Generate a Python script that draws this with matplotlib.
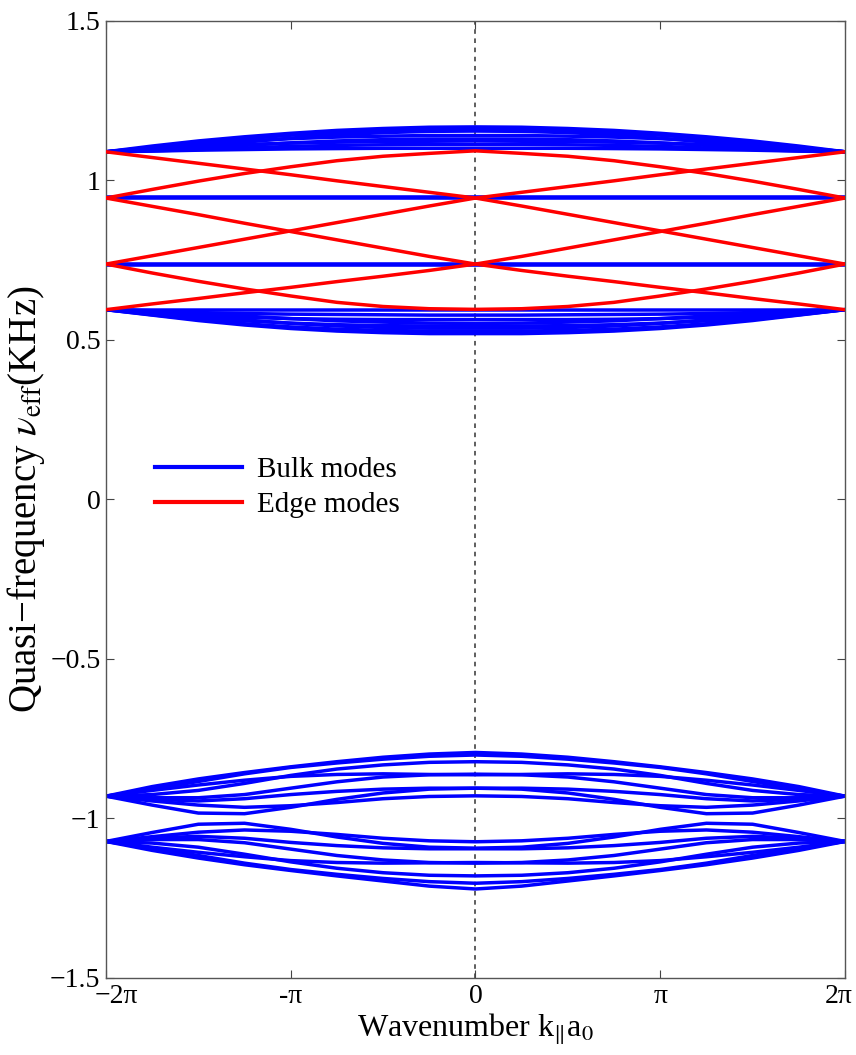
import numpy as np
import matplotlib.pyplot as plt
from matplotlib.lines import Line2D
from matplotlib.transforms import ScaledTranslation

# k samples on the left half, in units of pi (curves are mirror-symmetric about k=0)
k_half = [-2.0, -1.75, -1.5, -1.25, -1.0, -0.75, -0.5, -0.25, 0.0]

# bulk modes, upper positive group (meet at 1.09 on the zone edge)
bulk_top = [
    [1.090, 1.108, 1.124, 1.137, 1.148, 1.157, 1.163, 1.167, 1.168],
    [1.090, 1.104, 1.118, 1.131, 1.142, 1.150, 1.156, 1.160, 1.161],
    [1.090, 1.098, 1.108, 1.120, 1.133, 1.143, 1.150, 1.154, 1.155],
    [1.090, 1.103, 1.115, 1.124, 1.131, 1.136, 1.139, 1.141, 1.141],
    [1.090, 1.095, 1.102, 1.110, 1.118, 1.124, 1.128, 1.130, 1.130],
    [1.090, 1.099, 1.107, 1.113, 1.117, 1.120, 1.122, 1.123, 1.124],
    [1.090, 1.093, 1.097, 1.102, 1.107, 1.110, 1.112, 1.113, 1.113],
    [1.090, 1.092, 1.095, 1.097, 1.099, 1.100, 1.101, 1.101, 1.101],
]
# bulk modes, lower positive group (meet at 0.595 on the zone edge)
bulk_low = [
    [0.595, 0.594, 0.594, 0.594, 0.594, 0.594, 0.594, 0.594, 0.594],
    [0.595, 0.590, 0.586, 0.583, 0.581, 0.580, 0.579, 0.578, 0.578],
    [0.595, 0.585, 0.577, 0.571, 0.567, 0.565, 0.564, 0.564, 0.564],
    [0.595, 0.590, 0.583, 0.575, 0.567, 0.560, 0.556, 0.553, 0.552],
    [0.595, 0.581, 0.569, 0.560, 0.553, 0.548, 0.545, 0.544, 0.544],
    [0.595, 0.586, 0.575, 0.563, 0.552, 0.544, 0.539, 0.537, 0.537],
    [0.595, 0.579, 0.564, 0.551, 0.541, 0.534, 0.530, 0.528, 0.528],
    [0.595, 0.578, 0.561, 0.547, 0.536, 0.528, 0.523, 0.520, 0.520],
]
# flat bulk modes
bulk_flat = [0.947, 0.738]

# bulk modes, negative groups
bulk_neg_a = [
    [-0.930, -0.900, -0.876, -0.856, -0.838, -0.822, -0.808, -0.798, -0.793],
    [-0.930, -0.908, -0.884, -0.860, -0.840, -0.826, -0.814, -0.805, -0.801],
    [-0.930, -0.925, -0.912, -0.890, -0.865, -0.845, -0.832, -0.824, -0.822],
    [-0.930, -0.912, -0.895, -0.880, -0.868, -0.862, -0.860, -0.862, -0.863],
    [-0.930, -0.958, -0.983, -0.985, -0.965, -0.940, -0.920, -0.908, -0.905],
    [-0.930, -0.945, -0.958, -0.965, -0.960, -0.950, -0.938, -0.931, -0.929],
    [-0.930, -0.935, -0.935, -0.925, -0.905, -0.885, -0.870, -0.863, -0.861],
    [-0.930, -0.940, -0.945, -0.938, -0.925, -0.915, -0.908, -0.905, -0.905],
]
bulk_neg_b = [
    [-1.072, -1.100, -1.124, -1.145, -1.163, -1.180, -1.196, -1.212, -1.221],
    [-1.072, -1.093, -1.116, -1.140, -1.160, -1.175, -1.188, -1.198, -1.203],
    [-1.072, -1.077, -1.090, -1.112, -1.136, -1.156, -1.170, -1.178, -1.180],
    [-1.072, -1.090, -1.106, -1.120, -1.132, -1.138, -1.140, -1.139, -1.138],
    [-1.072, -1.044, -1.018, -1.015, -1.034, -1.058, -1.078, -1.090, -1.093],
    [-1.072, -1.057, -1.043, -1.036, -1.040, -1.050, -1.062, -1.070, -1.073],
    [-1.072, -1.066, -1.066, -1.076, -1.096, -1.116, -1.130, -1.138, -1.140],
    [-1.072, -1.061, -1.056, -1.062, -1.075, -1.085, -1.092, -1.095, -1.095],
]

# edge modes (each drawn together with its mirror image)
edge = [
    [1.090, 1.072, 1.054, 1.036, 1.018, 0.999, 0.981, 0.963, 0.945],
    [0.945, 0.972, 0.998, 1.022, 1.043, 1.062, 1.076, 1.085, 1.093],
    [0.945, 0.919, 0.893, 0.866, 0.840, 0.814, 0.788, 0.762, 0.738],
    [0.738, 0.764, 0.790, 0.816, 0.842, 0.868, 0.894, 0.920, 0.945],
    [0.738, 0.710, 0.684, 0.660, 0.638, 0.618, 0.605, 0.598, 0.596],
    [0.595, 0.613, 0.630, 0.648, 0.665, 0.683, 0.700, 0.718, 0.738],
]

yticks = [1.5, 1, 0.5, 0, -0.5, -1, -1.5]
ytick_labels = ['1.5', '1', '0.5', '0', '\u22120.5', '\u22121', '\u22121.5']
xticks = [-2, -1, 0, 1, 2]
xtick_labels = ['\u22122\u03c0', '-\u03c0', '0', '\u03c0', '2\u03c0']


def full(vals):
    vals = list(vals)
    return np.array(vals + vals[-2::-1])


plt.rcParams['font.family'] = ['Liberation Serif', 'DejaVu Serif']
plt.rcParams['mathtext.fontset'] = 'stix'

k = full(k_half)
k[len(k_half):] *= -1
k = k * np.pi

fig = plt.figure(figsize=(8.56, 10.55), dpi=100)
ax = fig.add_axes([0.1238, 0.0730, 0.8633, 0.9071])

blue = '#0000ff'
red = '#ff0000'
lw = 2.5

for curve in bulk_top + bulk_low + bulk_neg_a + bulk_neg_b:
    ax.plot(k, full(curve), color=blue, lw=lw, zorder=2)
for level in bulk_flat:
    ax.plot([k[0], k[-1]], [level, level], color=blue, lw=3.3, zorder=2)
for curve in edge:
    ax.plot(k, full(curve), color=red, lw=lw, zorder=3)

ax.axvline(0, color='#333333', lw=1.1, ls=(0, (3, 3)), zorder=1)

ax.set_xlim(-2 * np.pi, 2 * np.pi)
ax.set_ylim(-1.5, 1.5)
ax.set_xticks([t * np.pi for t in xticks])
ax.set_xticklabels(xtick_labels)
ax.set_yticks(yticks)
ax.set_yticklabels(ytick_labels)
ax.tick_params(direction='in', length=6, width=0.8, colors='#444444',
               labelcolor='black', labelsize=20, top=True, right=True, pad=4)
for s in ax.spines.values():
    s.set_color('#555555')
    s.set_linewidth(1.0)

# nudge the outer x labels so they stay clear of the corner / figure edge
xl = ax.get_xticklabels()
xl[0].set_transform(xl[0].get_transform() + ScaledTranslation(0.1, 0, fig.dpi_scale_trans))
xl[-1].set_transform(xl[-1].get_transform() + ScaledTranslation(-0.06, 0, fig.dpi_scale_trans))

ax.set_xlabel('Wavenumber k$_{\\|}$a$_0$', fontsize=23, labelpad=2)
ax.set_ylabel('Quasi\u2212frequency $\\nu_{\\rm eff}$(KHz)', fontsize=28, labelpad=2)

handles = [Line2D([], [], color=blue, lw=3), Line2D([], [], color=red, lw=3)]
ax.legend(handles, ['Bulk modes', 'Edge modes'], loc='upper left',
          bbox_to_anchor=(0.066, 0.545), frameon=False, fontsize=21,
          handlelength=3.0, handletextpad=0.5, labelspacing=0.3,
          borderpad=0, borderaxespad=0)

fig.savefig('out.png', dpi=100)
